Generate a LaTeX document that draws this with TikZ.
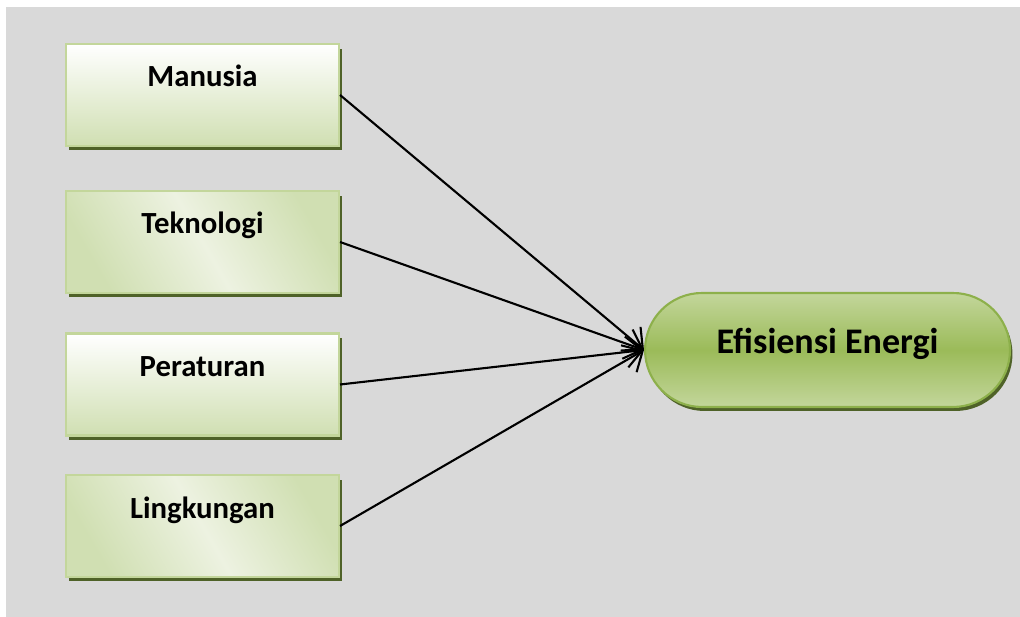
\documentclass[tikz,border=0pt]{standalone}
\usepackage{fontspec}
\setmainfont{Carlito}
\usetikzlibrary{shapes.misc,shadows,arrows.meta}

\definecolor{bggray}{HTML}{D9D9D9}
\definecolor{boxline}{HTML}{C3D69B}
\definecolor{boxlight}{HTML}{EDF2E1}
\definecolor{boxgreen}{HTML}{D0DFB2}
\definecolor{pillgreen}{HTML}{9BBB59}
\definecolor{pilllight}{HTML}{C3D69B}
\definecolor{pillline}{HTML}{8DB04B}
\definecolor{shadowgreen}{HTML}{4F6228}

\begin{document}
\begin{tikzpicture}[x=0.02cm, y=-0.02cm,
        factor/.style={rectangle, draw=boxline, line width=1.2pt, inner sep=0pt,
        minimum width=5.46cm, minimum height=2.04cm, text height=0.5cm, text depth=0.82cm,
        font=\fontsize{17.5}{21}\selectfont\bfseries,
        drop shadow={shadow xshift=0.06cm, shadow yshift=-0.09cm, fill=shadowgreen, opacity=1}},
        plainfill/.style={top color=white, bottom color=boxgreen},
        bandfill/.style={top color=boxgreen, bottom color=boxgreen, middle color=boxlight, shading angle=-60},
        goal/.style={rounded rectangle, draw=pillline, line width=1.2pt, inner sep=0pt,
        minimum width=7.3cm, minimum height=2.28cm, text height=0.6cm, text depth=0.46cm,
        top color=pilllight, bottom color=pilllight, middle color=pillgreen,
        font=\fontsize{20.5}{24}\selectfont\bfseries,
        drop shadow={shadow xshift=0.05cm, shadow yshift=-0.08cm, fill=shadowgreen, opacity=1}},
        link/.style={line width=1.2pt, -{Straight Barb[length=3.2mm, width=6.2mm]}}
        ]
    \useasboundingbox (0,0) rectangle (1020,617);
    \fill[bggray] (6,7) rectangle (1020,617);

    \node[factor, plainfill] (manusia) at (202.5,95) {Manusia};
    \node[factor, bandfill] (teknologi) at (202.5,242) {Teknologi};
    \node[factor, plainfill] (peraturan) at (202.5,384.5) {Peraturan};
    \node[factor, bandfill] (lingkungan) at (202.5,526) {Lingkungan};

    \node[goal] (efisiensi) at (827.5,350) {Efisiensi Energi};

    \draw [link] (manusia.east) -- (efisiensi.west);
    \draw [link] (teknologi.east) -- (efisiensi.west);
    \draw [link] (peraturan.east) -- (efisiensi.west);
    \draw [link] (lingkungan.east) -- (efisiensi.west);
\end{tikzpicture}
\end{document}
